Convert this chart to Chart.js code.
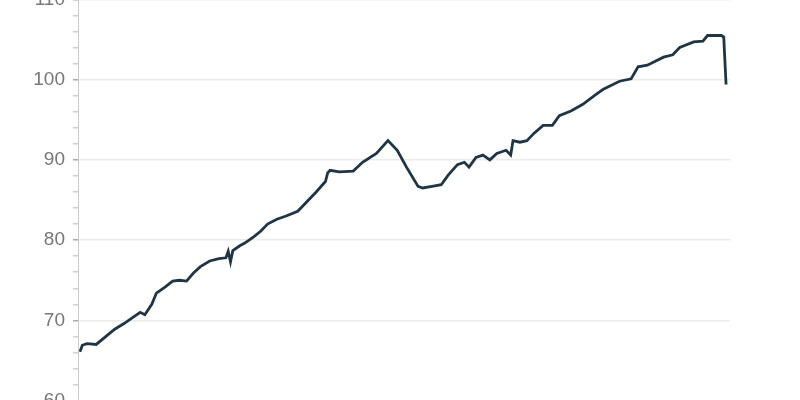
<!DOCTYPE html>
<html>
<head>
<meta charset="utf-8">
<script src="https://cdn.jsdelivr.net/npm/chart.js@4/dist/chart.umd.min.js"></script>
<style>
  html, body { margin: 0; padding: 0; background: #fff; overflow: hidden; }
  #wrap { position: absolute; left: 0; top: -20px; width: 800px; height: 440px; }
</style>
</head>
<body>
<div id="wrap"><canvas id="c"></canvas></div>
<script>
// Month index (0 = first month of the series) and index values
const months = [0,1,3,7,12,15,19,23,26,28,31,33,37,40,43,46,49,52,56,60,63,64,65,66,69,71,75,78,81,85,89,94,96,99,102,106,107,108,112,118,122,128,133,137,141,146,148,152,156,159,163,166,168,171,174,177,180,184,186,187,190,193,196,200,204,207,212,217,223,226,233,238,241,245,252,256,259,265,269,271,277,278,279];
const values = [66.1,66.9,67.1,67.0,68.2,68.9,69.6,70.4,71.0,70.7,72.0,73.4,74.2,74.9,75.0,74.9,75.9,76.7,77.4,77.7,77.8,78.6,77.3,78.7,79.3,79.6,80.4,81.1,82.0,82.6,83.0,83.6,84.2,85.1,86.0,87.3,88.4,88.7,88.5,88.6,89.7,90.8,92.4,91.2,89.1,86.7,86.5,86.7,86.9,88.1,89.4,89.7,89.1,90.3,90.6,90.0,90.8,91.2,90.6,92.4,92.2,92.4,93.3,94.3,94.3,95.5,96.1,96.9,98.2,98.8,99.8,100.1,101.6,101.8,102.8,103.1,104.0,104.7,104.8,105.5,105.5,105.3,99.4];
const yTicks = [60,70,80,90,100,110];

const points = months.map((m, i) => ({ x: m, y: values[i] }));

new Chart(document.getElementById('c'), {
  type: 'line',
  data: {
    datasets: [{
      data: points,
      borderColor: '#1f3546',
      borderWidth: 2.8,
      pointRadius: 0,
      tension: 0,
      fill: false
    }]
  },
  options: {
    responsive: true,
    maintainAspectRatio: false,
    animation: false,
    layout: { padding: { left: 0, right: 70, top: 16.3, bottom: 15.3 } },
    plugins: { legend: { display: false }, tooltip: { enabled: false } },
    scales: {
      x: {
        type: 'linear',
        display: false,
        min: -0.86,
        max: 280.7
      },
      y: {
        min: 60,
        max: 110,
        afterFit: (s) => { s.width = 78; },
        border: { display: true, color: '#cccccc', width: 1 },
        grid: {
          color: (ctx) => (yTicks.includes(ctx.tick && ctx.tick.value) ? '#ebebeb' : 'rgba(0,0,0,0)'),
          tickColor: (ctx) => (yTicks.includes(ctx.tick && ctx.tick.value) ? '#aaaaaa' : '#d0d0d0'),
          tickLength: 5,
          lineWidth: 1.5
        },
        ticks: {
          stepSize: 2,
          autoSkip: false,
          padding: 8,
          color: '#777777',
          font: { family: 'Liberation Sans', size: 19 },
          callback: (v) => (yTicks.includes(v) ? String(v) : '')
        }
      }
    }
  }
});
</script>
</body>
</html>
